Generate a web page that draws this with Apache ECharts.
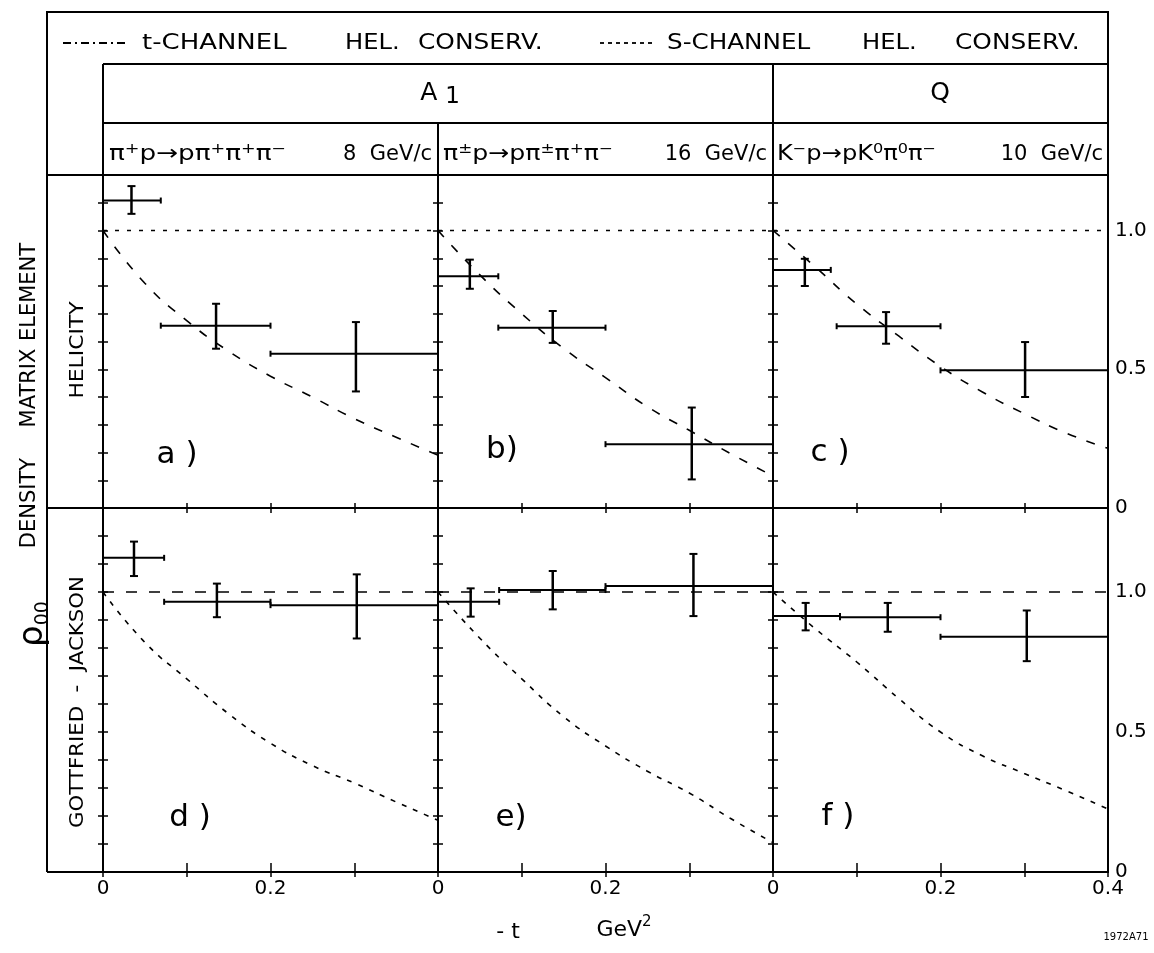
<!DOCTYPE html>
<html><head><meta charset="utf-8">
<script src="https://cdn.jsdelivr.net/npm/echarts@6/dist/echarts.min.js"></script>
<style>html,body{margin:0;padding:0;background:#fff}#c{width:1154px;height:953px}</style>
</head><body><div id="c"></div>
<script>
// ---------------- DATA ----------------
// -t bins (GeV^2) and measured rho00 with errors, per panel
const binLowA = [0, 0.069, 0.2],  binHighA = [0.069, 0.2, 0.4];
const tA = [0.034, 0.135, 0.302], valA = [1.108, 0.657, 0.556], errLoA = [1.06, 0.574, 0.42], errHiA = [1.16, 0.736, 0.67];
const binLowB = [0, 0.072, 0.2],  binHighB = [0.072, 0.2, 0.4];
const tB = [0.038, 0.137, 0.303], valB = [0.835, 0.65, 0.23], errLoB = [0.79, 0.595, 0.103], errHiB = [0.895, 0.71, 0.362];
const binLowC = [0, 0.076, 0.2],  binHighC = [0.069, 0.2, 0.4];
const tC = [0.038, 0.135, 0.301], valC = [0.858, 0.655, 0.496], errLoC = [0.80, 0.592, 0.40], errHiC = [0.898, 0.706, 0.598];
const binLowD = [0, 0.073, 0.2],  binHighD = [0.073, 0.2, 0.4];
const tD = [0.037, 0.136, 0.303], valD = [1.122, 0.965, 0.953], errLoD = [1.057, 0.91, 0.834], errHiD = [1.18, 1.03, 1.063];
const binLowE = [0, 0.073, 0.2],  binHighE = [0.073, 0.2, 0.4];
const tE = [0.039, 0.137, 0.305], valE = [0.965, 1.007, 1.021], errLoE = [0.912, 0.938, 0.914], errHiE = [1.013, 1.075, 1.136];
const binLowF = [0, 0.08, 0.2],   binHighF = [0.08, 0.2, 0.4];
const tF = [0.039, 0.137, 0.303], valF = [0.914, 0.91, 0.84], errLoF = [0.863, 0.858, 0.753], errHiF = [0.961, 0.961, 0.934];

// theory curves
const curveT = [0, 0.05, 0.1, 0.15, 0.2, 0.25, 0.3, 0.35, 0.4];
const helCurveA = [1.0, 0.81, 0.675, 0.565, 0.475, 0.40, 0.322, 0.255, 0.19];
const helCurveB = [1.0, 0.84, 0.70, 0.575, 0.47, 0.365, 0.28, 0.195, 0.115];
const helCurveC = [1.0, 0.87, 0.735, 0.62, 0.51, 0.418, 0.34, 0.27, 0.215];
const gjCurveD  = [1.0, 0.82, 0.69, 0.565, 0.46, 0.38, 0.318, 0.25, 0.185];
const gjCurveE  = [1.0, 0.835, 0.69, 0.555, 0.45, 0.36, 0.282, 0.19, 0.105];
const gjCurveF  = [1.0, 0.87, 0.75, 0.62, 0.50, 0.415, 0.352, 0.29, 0.225];
const flatT = [0, 0.4], flatV = [1.0, 1.0];

// texts
const xTickLabels = ['0', '0.2', '0.4'];
const yTickLabels = ['0', '0.5', '1.0'];
const panelLetters = ['a )', 'b)', 'c )', 'd )', 'e)', 'f )'];

// ---------------- LAYOUT ----------------
const FONT = 'DejaVu Sans';
const panelLeft = [103, 438, 773], panelW = 335;
const rowTop = [175, 508], rowH = [333, 364], rowMax = [1.2, 1.3];
const letterPos = [[177,455],[502,450],[830,453],[190,818],[511,818],[838,817]];

const panels = [
  {bl:binLowA,bh:binHighA,t:tA,v:valA,lo:errLoA,hi:errHiA,curve:helCurveA},
  {bl:binLowB,bh:binHighB,t:tB,v:valB,lo:errLoB,hi:errHiB,curve:helCurveB},
  {bl:binLowC,bh:binHighC,t:tC,v:valC,lo:errLoC,hi:errHiC,curve:helCurveC},
  {bl:binLowD,bh:binHighD,t:tD,v:valD,lo:errLoD,hi:errHiD,curve:gjCurveD},
  {bl:binLowE,bh:binHighE,t:tE,v:valE,lo:errLoE,hi:errHiE,curve:gjCurveE},
  {bl:binLowF,bh:binHighF,t:tF,v:valF,lo:errLoF,hi:errHiF,curve:gjCurveF}
];

const near = (a,b) => Math.abs(a-b) < 1e-6;
const grids = [], xAxes = [], yAxes = [], series = [];
const tickStyle = {color:'#000', width:1.5};

panels.forEach((p, g) => {
  const r = Math.floor(g/3), c = g%3;
  grids.push({left: panelLeft[c], top: rowTop[r], width: panelW, height: rowH[r],
    show: true, borderColor: '#000', borderWidth: 2, backgroundColor: 'transparent'});
  xAxes.push({gridIndex:g, type:'value', min:0, max:0.4, interval:0.1, position:'bottom',
    axisLine:{show:false}, splitLine:{show:false},
    axisTick:{show:true, inside:true, length: r===1?9:5, lineStyle:tickStyle},
    axisLabel:{show: r===1, color:'#000', fontFamily:FONT, fontSize:20, margin:7, hideOverlap:false,
      showMinLabel:true, showMaxLabel:true,
      formatter: v => near(v,0) ? xTickLabels[0] : near(v,0.2) ? xTickLabels[1] : (c===2 && near(v,0.4)) ? xTickLabels[2] : ''}});
  xAxes.push({gridIndex:g, type:'value', min:0, max:0.4, interval:0.1, position:'top',
    axisLine:{show:false}, splitLine:{show:false},
    axisTick:{show:true, inside:true, length:5, lineStyle:tickStyle}, axisLabel:{show:false}});
  yAxes.push({gridIndex:g, type:'value', min:0, max:rowMax[r], interval:0.1, position:'left',
    axisLine:{show:false}, splitLine:{show:false},
    axisTick:{show:true, inside:true, length:5, lineStyle:tickStyle}, axisLabel:{show:false}});
  yAxes.push({gridIndex:g, type:'value', min:0, max:rowMax[r], interval:0.1, position:'right',
    axisLine:{show:false}, splitLine:{show:false},
    axisTick:{show:true, inside:true, length:5, lineStyle:tickStyle},
    axisLabel:{show: c===2, color:'#000', fontFamily:FONT, fontSize:20, margin:7, hideOverlap:false,
      showMinLabel:true, showMaxLabel:false,
      formatter: v => near(v,0) ? yTickLabels[0] : near(v,0.5) ? yTickLabels[1] : near(v,1) ? yTickLabels[2] : ''}});

  const xi = g*2, yi = g*2;
  series.push({type:'line', xAxisIndex:xi, yAxisIndex:yi, showSymbol:false, silent:true,
    data: flatT.map((t,i)=>[t, flatV[i]]),
    lineStyle:{color:'#000', width:1.6, type: r===0 ? [4, 8] : [11, 12]}});
  series.push({type:'line', xAxisIndex:xi, yAxisIndex:yi, showSymbol:false, silent:true, smooth:0.5,
    data: curveT.map((t,i)=>[t, p.curve[i]]),
    lineStyle:{color:'#000', width:1.6, type: r===0 ? [9, 11] : [5, 7]}});
  series.push({type:'custom', xAxisIndex:xi, yAxisIndex:yi, silent:true,
    encode:{x:0, y:1},
    data: p.t.map((t,i)=>[t, p.v[i], p.bl[i], p.bh[i], p.lo[i], p.hi[i]]),
    renderItem: (params, api) => {
      const t=api.value(0), v=api.value(1), tl=api.value(2), th=api.value(3), vl=api.value(4), vh=api.value(5);
      const L=api.coord([tl,v]), R=api.coord([th,v]), T=api.coord([t,vh]), B=api.coord([t,vl]);
      const st={stroke:'#000', lineWidth:2};
      const cap=4, ec=3;
      const ln=(x1,y1,x2,y2,s)=>({type:'line', shape:{x1,y1,x2,y2}, style:s||st});
      return {type:'group', children:[
        ln(L[0],L[1],R[0],R[1]),
        ln(T[0],T[1],B[0],B[1],{stroke:'#000',lineWidth:2.5}),
        ln(T[0]-cap,T[1],T[0]+cap,T[1]),
        ln(B[0]-cap,B[1],B[0]+cap,B[1]),
        ln(L[0],L[1]-ec,L[0],L[1]+ec),
        ln(R[0],R[1]-ec,R[0],R[1]+ec)
      ]};
    }});
});

// ---------------- GRAPHIC (frame, headers, labels) ----------------
const G = [];
const line = (x1,y1,x2,y2,w,dash) => G.push({type:'line', silent:true, shape:{x1,y1,x2,y2},
  style:{stroke:'#000', lineWidth:w||2, lineDash:dash||null}});
const text = (x,y,s,size,opts) => {
  opts = opts || {};
  const el = {type:'text', silent:true, x, y,
    style:Object.assign({text:s, fill:'#000', fontFamily:FONT, fontSize:size, align:'left', verticalAlign:'middle'}, opts.style||{})};
  if (opts.rotation !== undefined) el.rotation = opts.rotation;
  if (opts.sx !== undefined) el.scaleX = opts.sx;
  G.push(el);
};

// frame
G.push({type:'polyline', silent:true, shape:{points:[[47,872],[47,12],[1108,12],[1108,175]]}, style:{stroke:'#000', lineWidth:2, fill:null}});
line(103,64,1108,64);
line(103,64,103,175);
line(773,64,773,175);
line(103,123,1108,123);
line(438,123,438,175);
line(47,175,103,175);
line(47,508,103,508);
line(47,872,103,872);

// legend
line(63,43,126,43,1.8,[8,4,2,4]);
text(142,43,'t-CHANNEL',22,{sx:1.18});
text(345,43,'HEL.',22,{sx:1.1});
text(418,43,'CONSERV.',22,{sx:1.13});
line(600,43,656,43,1.8,[4,4]);
text(667,43,'S-CHANNEL',22,{sx:1.12});
text(862,43,'HEL.',22,{sx:1.1});
text(955,43,'CONSERV.',22,{sx:1.13});

// resonance headers
text(440,93,'{b|A }{d|1}',25,{style:{align:'center', rich:{
  b:{fontSize:25,fontFamily:FONT,lineHeight:32,verticalAlign:'middle',fill:'#000'},
  d:{fontSize:23,fontFamily:FONT,lineHeight:32,verticalAlign:'bottom',fill:'#000'}}}});
text(940,93,'Q',25,{style:{align:'center'}});

// reactions
const sup = {fontSize:14, fontFamily:FONT, verticalAlign:'top', lineHeight:26, fill:'#000'};
const base = {fontSize:21, fontFamily:FONT, lineHeight:26, fill:'#000', verticalAlign:'middle'};
const rich = {b:base, s:sup};
text(109,155,'{b|π}{s|+}{b|p→pπ}{s|+}{b|π}{s|+}{b|π}{s|−}',21,{sx:1.25, style:{rich}});
text(432,155,'8  GeV/c',21,{style:{align:'right'}});
text(443,155,'{b|π}{s|±}{b|p→pπ}{s|±}{b|π}{s|+}{b|π}{s|−}',21,{sx:1.2, style:{rich}});
text(767,155,'16  GeV/c',21,{style:{align:'right'}});
text(777,155,'{b|K}{s|−}{b|p→pK}{s|0}{b|π}{s|0}{b|π}{s|−}',21,{sx:1.15, style:{rich}});
text(1103,155,'10  GeV/c',21,{style:{align:'right'}});

// side labels
text(78,350,'HELICITY',19,{rotation:Math.PI/2, sx:1.15, style:{align:'center'}});
text(78,702,'GOTTFRIED  -  JACKSON',19,{rotation:Math.PI/2, sx:1.12, style:{align:'center'}});
text(30,292,'ELEMENT',21,{rotation:Math.PI/2, style:{align:'center'}});
text(30,388,'MATRIX',21,{rotation:Math.PI/2, style:{align:'center'}});
text(30,503,'DENSITY',21,{rotation:Math.PI/2, style:{align:'center'}});
text(33,624,'{r|ρ}{o|00}',30,{rotation:Math.PI/2, style:{align:'center',
  rich:{r:{fontSize:34,fontFamily:FONT,lineHeight:40,verticalAlign:'middle',fill:'#000'},
        o:{fontSize:19,fontFamily:FONT,lineHeight:40,verticalAlign:'bottom',fill:'#000'}}}});

// panel letters
panelLetters.forEach((s,i)=> text(letterPos[i][0], letterPos[i][1], s, 31, {style:{align:'center'}}));

// axis title
text(508,932,'- t',22,{style:{align:'center'}});
text(624,930,'{b|GeV}{s|2}',22,{style:{align:'center', rich:{
  b:{fontSize:22,fontFamily:FONT,lineHeight:30,verticalAlign:'middle',fill:'#000'},
  s:{fontSize:15,fontFamily:FONT,lineHeight:30,verticalAlign:'top',fill:'#000'}}}});
text(1126,937,'1972A71',10,{style:{align:'center'}});

const chart = echarts.init(document.getElementById('c'), null, {renderer:'canvas'});
chart.setOption({
  backgroundColor:'#fff',
  animation:false,
  grid:grids, xAxis:xAxes, yAxis:yAxes, series:series,
  graphic:{elements:G}
});
</script>
</body></html>
